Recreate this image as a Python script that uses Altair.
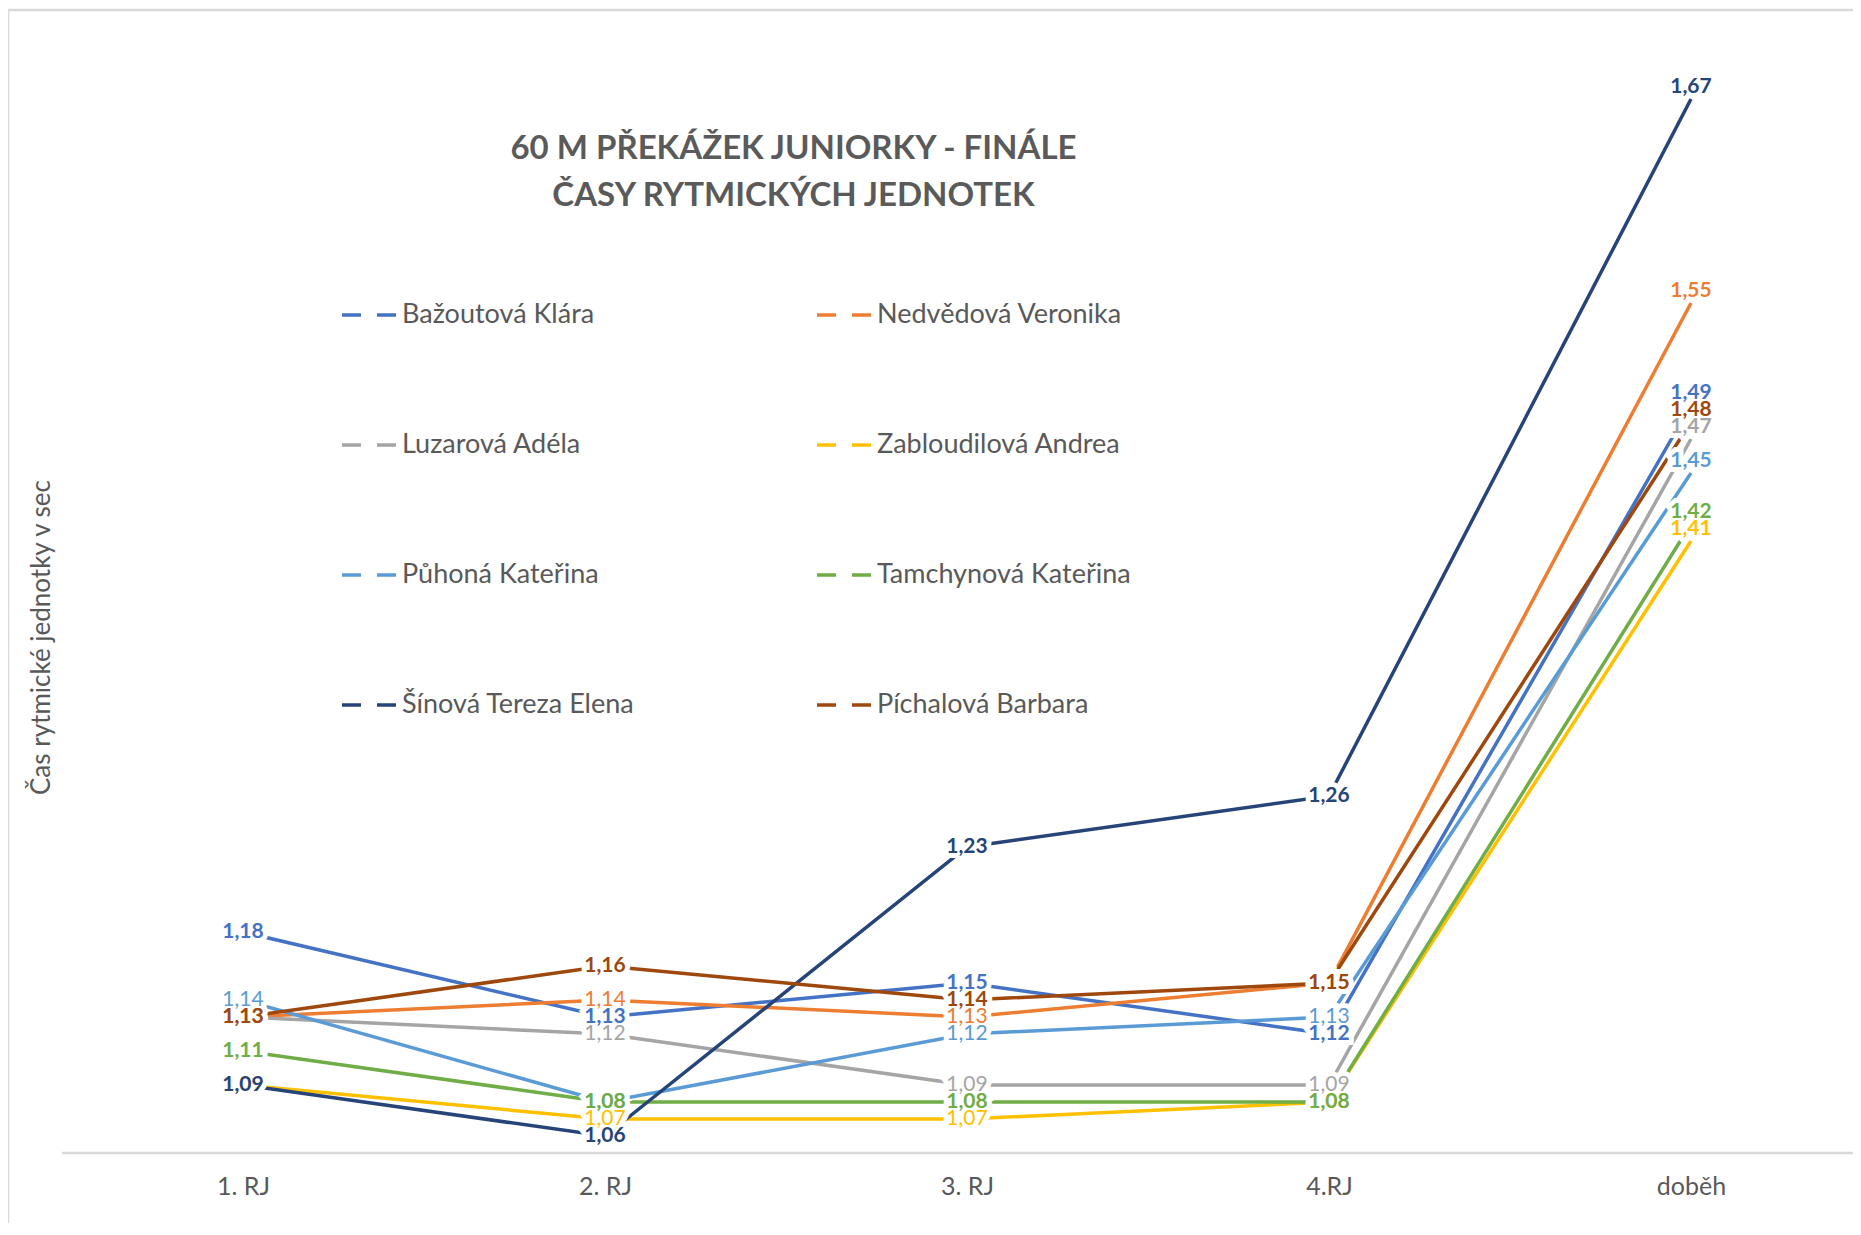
import altair as alt
import pandas as pd

categories = ["1. RJ", "2. RJ", "3. RJ", "4.RJ", "doběh"]
athletes = [
    "Bažoutová Klára", "Nedvědová Veronika", "Luzarová Adéla", "Zabloudilová Andrea",
    "Půhoná Kateřina", "Tamchynová Kateřina", "Šínová Tereza Elena", "Píchalová Barbara",
]
bazoutova = [1.18, 1.13, 1.15, 1.12, 1.49]
nedvedova = [1.13, 1.14, 1.13, 1.15, 1.55]
luzarova = [1.13, 1.12, 1.09, 1.09, 1.47]
zabloudilova = [1.09, 1.07, 1.07, 1.08, 1.41]
puhona = [1.14, 1.08, 1.12, 1.13, 1.45]
tamchynova = [1.11, 1.08, 1.08, 1.08, 1.42]
sinova = [1.09, 1.06, 1.23, 1.26, 1.67]
pichalova = [1.13, 1.16, 1.14, 1.15, 1.48]
series_values = [bazoutova, nedvedova, luzarova, zabloudilova, puhona, tamchynova, sinova, pichalova]
colors = ["#4472C4", "#ED7D31", "#A5A5A5", "#FFC000", "#5B9BD5", "#70AD47", "#264478", "#9E480E"]
bold_series = ["Bažoutová Klára", "Tamchynová Kateřina", "Šínová Tereza Elena", "Píchalová Barbara"]

# legend is filled column by column: reorder so it reads row by row (2 columns)
legend_order = athletes[0::2] + athletes[1::2]
color_of = dict(zip(athletes, colors))
legend_colors = [color_of[a] for a in legend_order]

rows = []
for s_i, (name, vals) in enumerate(zip(athletes, series_values)):
    for c_i, (cat, v) in enumerate(zip(categories, vals)):
        rows.append({
            "athlete": name, "cat": cat, "idx": c_i, "sidx": s_i, "value": v,
            "label": f"{v:.2f}".replace(".", ","),
            "bold": name in bold_series or cat == "doběh",
            "last": cat == "doběh",
        })
df = pd.DataFrame(rows)

FONT = "Lato"
GRAY = "#595959"
BORDER = "#D9D9D9"

x_scale = alt.Scale(domain=categories, range=[181, 1629], padding=0)
x_enc = alt.X("cat:N", sort=categories, scale=x_scale,
              axis=alt.Axis(title=None, labelAngle=0, ticks=False, domain=False,
                            labelFontSize=25, labelColor=GRAY, labelPadding=21,
                            labelFont=FONT))
y_scale = alt.Scale(domain=[1.05, 1.70], zero=False, nice=False)
y_enc = alt.Y("value:Q", scale=y_scale,
              axis=alt.Axis(title="Čas rytmické jednotky v sec", labels=False, ticks=False,
                            domain=False, grid=False, titleFontSize=26, titleColor=GRAY,
                            titleFontWeight="normal", titleFont=FONT, titlePadding=8,
                            titleY=589))
color_scale = alt.Scale(domain=legend_order, range=legend_colors)
color_enc = alt.Color("athlete:N", scale=color_scale,
                      legend=alt.Legend(orient="none", legendX=278, legendY=238, columns=2,
                                        title=None, symbolType="stroke", symbolSize=2916,
                                        symbolStrokeWidth=3.5, symbolDash=[19, 16],
                                        labelFontSize=27, labelColor=GRAY, labelFont=FONT,
                                        columnPadding=175, rowPadding=88, labelOffset=4,
                                        labelLimit=500))

base = alt.Chart(df)
frame = alt.Chart(pd.DataFrame({"k": [0]}))

# category axis line across the full plot width, and the chart-area border
axis_line = frame.mark_rule(color=BORDER, strokeWidth=2.5).encode(
    x=alt.value(0), x2=alt.value({"expr": "width"}), y=alt.value({"expr": "height"})
)
border_top = frame.mark_rule(color=BORDER, strokeWidth=2.5, clip=False).encode(
    x=alt.value(-54), x2=alt.value({"expr": "width"}), y=alt.value(-38)
)
border_left = frame.mark_rule(color=BORDER, strokeWidth=2.5, clip=False).encode(
    x=alt.value(-54), y=alt.value(-38), y2=alt.value({"expr": "height + 70"})
)

lines = base.mark_line(strokeWidth=3.5).encode(
    x=x_enc, y=y_enc, color=color_enc, order="idx:Q", detail="athlete:N"
)


def label_layer(data_filter, halo, bold, dy):
    ch = base.transform_filter(data_filter)
    xe = alt.X("cat:N", sort=categories, scale=x_scale)
    ye = alt.Y("value:Q", scale=y_scale)
    if halo:
        mk = ch.mark_text(font=FONT, fontSize=21, fontWeight="bold", fill="white",
                          stroke="white", strokeWidth=10, dy=dy, baseline="middle")
        return mk.encode(x=xe, y=ye, text="label:N")
    mk = ch.mark_text(font=FONT, fontSize=21, fontWeight="bold" if bold else "normal",
                      dy=dy, baseline="middle")
    return mk.encode(x=xe, y=ye, text="label:N",
                     color=alt.Color("athlete:N", scale=color_scale, legend=None))


not_last = "!datum.last"
is_last = "datum.last"
halo_a = label_layer(not_last, True, True, 0)
halo_b = label_layer(is_last, True, True, -12)
txt_reg = label_layer("!datum.last && !datum.bold", False, False, 0)
txt_bold = label_layer("!datum.last && datum.bold", False, True, 0)
txt_last = label_layer(is_last, False, True, -12)

chart = alt.layer(border_top, border_left, axis_line, lines, halo_a, halo_b,
                  txt_reg, txt_bold, txt_last).properties(
    width=1791, height=1105,
    title=alt.TitleParams(text=["60 M PŘEKÁŽEK JUNIORKY - FINÁLE", "ČASY RYTMICKÝCH JEDNOTEK"],
                          fontSize=33, fontWeight="bold", color="#5A5A5A", font=FONT,
                          anchor="middle", dx=-164, dy=208, lineHeight=47),
    autosize=alt.AutoSizeParams(type="none"),
    padding={"left": 54, "top": 40, "right": 0, "bottom": 70},
).configure(font=FONT, background="white").configure_view(stroke=None)

chart.save("out.html", embed_options={"renderer": "svg", "actions": False})
